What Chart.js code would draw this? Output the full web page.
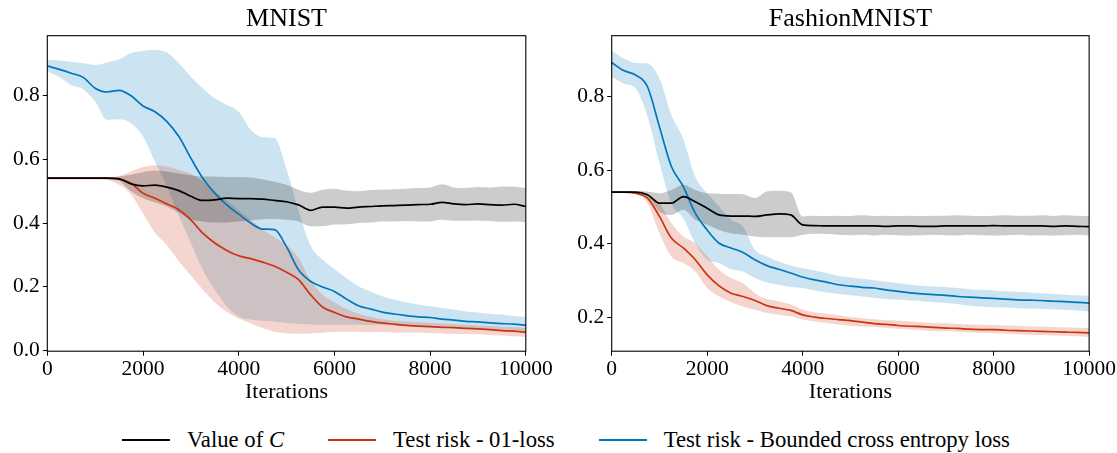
<!DOCTYPE html>
<html>
<head>
<meta charset="utf-8">
<script src="https://cdn.jsdelivr.net/npm/chart.js@4"></script>
<style>
  html, body { margin: 0; padding: 0; background: #fff; }
  body { width: 1117px; height: 453px; overflow: hidden; position: relative; font-family: 'Liberation Serif', serif; }
  #left { position: absolute; left: 0; top: 0; }
  #right { position: absolute; left: 558px; top: 0; }
  #legend { position: absolute; left: 122px; top: 425px; height: 30px; line-height: 30px; font-size: 22.7px; color: #000; white-space: nowrap; display: flex; align-items: center; }
  #legend .item { display: flex; align-items: center; margin-right: 44px; }
  #legend .swatch { display: inline-block; width: 48px; height: 2px; margin-right: 17px; }
</style>
</head>
<body>
<canvas id="left" width="558" height="410"></canvas>
<canvas id="right" width="559" height="410"></canvas>
<div id="legend"></div>
<script>
// x axis (iterations), one value per 250 steps
const iterations = [0, 250, 500, 750, 1000, 1250, 1500, 1750, 2000, 2250, 2500, 2750, 3000, 3250, 3500, 3750, 4000, 4250, 4500, 4750, 5000,
  5250, 5500, 5750, 6000, 6250, 6500, 6750, 7000, 7250, 7500, 7750, 8000, 8250, 8500, 8750, 9000, 9250, 9500, 9750, 10000];

const seriesNames = ['Value of <i>C</i>', 'Test risk - 01-loss', 'Test risk - Bounded cross entropy loss'];
const seriesColors = ['#000000', '#CC3311', '#0077BB'];
const bandColors = ['rgba(0,0,0,0.2)', 'rgba(204,51,17,0.2)', 'rgba(0,119,187,0.2)'];
const xTicks = [0, 2000, 4000, 6000, 8000, 10000];

// ---- MNIST ----
const mnistC   = [0.541, 0.541, 0.541, 0.541, 0.541, 0.541, 0.539, 0.523, 0.517, 0.519, 0.513, 0.502, 0.484, 0.471, 0.473, 0.478, 0.477, 0.477, 0.475, 0.471, 0.467,
  0.457, 0.440, 0.450, 0.450, 0.447, 0.450, 0.452, 0.454, 0.455, 0.456, 0.458, 0.459, 0.465, 0.460, 0.458, 0.460, 0.458, 0.456, 0.459, 0.452];
const mnistCHi = [0.543, 0.543, 0.543, 0.543, 0.543, 0.543, 0.546, 0.552, 0.560, 0.565, 0.562, 0.556, 0.550, 0.546, 0.546, 0.545, 0.545, 0.543, 0.538, 0.530, 0.520,
  0.505, 0.495, 0.505, 0.508, 0.502, 0.500, 0.504, 0.505, 0.506, 0.508, 0.510, 0.512, 0.522, 0.512, 0.510, 0.513, 0.512, 0.515, 0.514, 0.510];
const mnistCLo = [0.538, 0.538, 0.538, 0.538, 0.538, 0.538, 0.532, 0.500, 0.478, 0.465, 0.452, 0.432, 0.412, 0.405, 0.402, 0.402, 0.405, 0.408, 0.412, 0.413, 0.410,
  0.405, 0.390, 0.390, 0.395, 0.396, 0.400, 0.402, 0.405, 0.405, 0.406, 0.405, 0.405, 0.410, 0.407, 0.407, 0.408, 0.406, 0.404, 0.405, 0.402];

const mnistRisk   = [0.541, 0.541, 0.541, 0.541, 0.541, 0.541, 0.539, 0.525, 0.494, 0.478, 0.460, 0.442, 0.410, 0.368, 0.337, 0.314, 0.297, 0.288, 0.277, 0.264, 0.245,
  0.222, 0.175, 0.136, 0.119, 0.105, 0.098, 0.091, 0.086, 0.082, 0.078, 0.076, 0.074, 0.072, 0.071, 0.069, 0.067, 0.065, 0.062, 0.060, 0.057];
const mnistRiskHi = [0.543, 0.543, 0.543, 0.543, 0.543, 0.543, 0.548, 0.562, 0.576, 0.582, 0.578, 0.567, 0.555, 0.530, 0.500, 0.470, 0.440, 0.410, 0.380, 0.355, 0.330,
  0.290, 0.220, 0.175, 0.150, 0.130, 0.115, 0.105, 0.098, 0.093, 0.090, 0.088, 0.086, 0.084, 0.082, 0.080, 0.078, 0.076, 0.074, 0.072, 0.070];
const mnistRiskLo = [0.538, 0.538, 0.538, 0.538, 0.538, 0.535, 0.520, 0.490, 0.430, 0.370, 0.330, 0.280, 0.235, 0.190, 0.150, 0.120, 0.100, 0.085, 0.070, 0.058, 0.053,
  0.052, 0.053, 0.055, 0.057, 0.058, 0.058, 0.057, 0.057, 0.056, 0.055, 0.055, 0.054, 0.053, 0.052, 0.051, 0.050, 0.048, 0.046, 0.044, 0.042];

const mnistBce   = [0.894, 0.883, 0.871, 0.858, 0.824, 0.812, 0.817, 0.800, 0.768, 0.750, 0.719, 0.672, 0.604, 0.541, 0.494, 0.457, 0.428, 0.400, 0.381, 0.379, 0.325,
  0.253, 0.217, 0.199, 0.185, 0.161, 0.140, 0.130, 0.120, 0.114, 0.109, 0.105, 0.103, 0.098, 0.095, 0.091, 0.089, 0.086, 0.084, 0.082, 0.079];
const mnistBceHi = [0.913, 0.911, 0.907, 0.902, 0.897, 0.905, 0.915, 0.934, 0.942, 0.944, 0.936, 0.902, 0.860, 0.824, 0.792, 0.771, 0.750, 0.693, 0.670, 0.667, 0.570,
  0.440, 0.330, 0.285, 0.255, 0.227, 0.201, 0.185, 0.170, 0.159, 0.151, 0.144, 0.138, 0.133, 0.128, 0.122, 0.119, 0.115, 0.112, 0.108, 0.105];
const mnistBceLo = [0.876, 0.860, 0.834, 0.821, 0.782, 0.724, 0.726, 0.714, 0.672, 0.593, 0.515, 0.421, 0.337, 0.253, 0.190, 0.138, 0.105, 0.097, 0.093, 0.090, 0.086,
  0.083, 0.081, 0.080, 0.080, 0.080, 0.080, 0.079, 0.079, 0.078, 0.077, 0.076, 0.075, 0.074, 0.072, 0.071, 0.069, 0.067, 0.065, 0.062, 0.060];

// ---- FashionMNIST ----
const fashionC   = [0.540, 0.540, 0.540, 0.533, 0.510, 0.510, 0.528, 0.514, 0.496, 0.478, 0.475, 0.475, 0.474, 0.478, 0.481, 0.478, 0.451, 0.449, 0.448, 0.448, 0.448,
  0.448, 0.448, 0.447, 0.448, 0.448, 0.447, 0.447, 0.448, 0.448, 0.448, 0.448, 0.449, 0.448, 0.448, 0.448, 0.448, 0.447, 0.448, 0.447, 0.446];
const fashionCHi = [0.543, 0.543, 0.543, 0.542, 0.537, 0.546, 0.560, 0.546, 0.537, 0.536, 0.535, 0.534, 0.524, 0.542, 0.544, 0.540, 0.474, 0.476, 0.475, 0.476, 0.475,
  0.477, 0.475, 0.476, 0.475, 0.476, 0.475, 0.476, 0.476, 0.477, 0.476, 0.475, 0.476, 0.477, 0.476, 0.476, 0.477, 0.475, 0.477, 0.476, 0.475];
const fashionCLo = [0.538, 0.538, 0.537, 0.528, 0.487, 0.478, 0.492, 0.465, 0.451, 0.437, 0.428, 0.424, 0.419, 0.417, 0.417, 0.417, 0.424, 0.427, 0.426, 0.424, 0.423,
  0.424, 0.422, 0.424, 0.423, 0.422, 0.423, 0.424, 0.423, 0.422, 0.424, 0.423, 0.422, 0.423, 0.424, 0.422, 0.423, 0.422, 0.423, 0.424, 0.422];

const fashionRisk   = [0.540, 0.540, 0.537, 0.524, 0.474, 0.415, 0.388, 0.356, 0.315, 0.285, 0.265, 0.256, 0.245, 0.231, 0.224, 0.218, 0.206, 0.200, 0.196, 0.193, 0.190,
  0.186, 0.182, 0.180, 0.177, 0.175, 0.174, 0.172, 0.170, 0.169, 0.167, 0.166, 0.166, 0.164, 0.163, 0.162, 0.161, 0.160, 0.159, 0.158, 0.157];
const fashionRiskHi = [0.541, 0.541, 0.540, 0.533, 0.510, 0.456, 0.419, 0.401, 0.365, 0.329, 0.306, 0.292, 0.265, 0.249, 0.243, 0.234, 0.220, 0.213, 0.209, 0.205, 0.200,
  0.197, 0.194, 0.192, 0.190, 0.188, 0.186, 0.184, 0.183, 0.181, 0.180, 0.179, 0.178, 0.177, 0.176, 0.175, 0.174, 0.173, 0.172, 0.171, 0.170];
const fashionRiskLo = [0.538, 0.538, 0.535, 0.510, 0.428, 0.365, 0.347, 0.324, 0.279, 0.256, 0.240, 0.229, 0.220, 0.211, 0.206, 0.202, 0.193, 0.188, 0.184, 0.180, 0.176,
  0.174, 0.173, 0.170, 0.168, 0.166, 0.164, 0.162, 0.161, 0.160, 0.158, 0.157, 0.156, 0.155, 0.153, 0.152, 0.151, 0.150, 0.149, 0.148, 0.146];

const fashionBce   = [0.893, 0.871, 0.859, 0.827, 0.718, 0.610, 0.555, 0.483, 0.437, 0.401, 0.388, 0.376, 0.356, 0.340, 0.330, 0.320, 0.309, 0.301, 0.295, 0.288, 0.284,
  0.281, 0.279, 0.274, 0.270, 0.266, 0.263, 0.261, 0.259, 0.256, 0.254, 0.252, 0.251, 0.249, 0.247, 0.246, 0.245, 0.243, 0.242, 0.240, 0.238];
const fashionBceHi = [0.925, 0.904, 0.892, 0.890, 0.850, 0.750, 0.685, 0.582, 0.537, 0.501, 0.465, 0.446, 0.383, 0.365, 0.351, 0.340, 0.333, 0.327, 0.320, 0.312, 0.308,
  0.304, 0.300, 0.296, 0.292, 0.288, 0.285, 0.283, 0.282, 0.279, 0.276, 0.274, 0.272, 0.270, 0.269, 0.267, 0.265, 0.263, 0.261, 0.259, 0.258];
const fashionBceLo = [0.854, 0.836, 0.823, 0.746, 0.619, 0.510, 0.469, 0.401, 0.356, 0.347, 0.330, 0.324, 0.306, 0.294, 0.288, 0.282, 0.279, 0.272, 0.267, 0.263, 0.259,
  0.256, 0.252, 0.249, 0.247, 0.245, 0.243, 0.240, 0.238, 0.235, 0.231, 0.229, 0.227, 0.226, 0.224, 0.223, 0.222, 0.221, 0.220, 0.218, 0.215];

const mnistYTicks = [0, 0.2, 0.4, 0.6, 0.8];
const fashionYTicks = [0.2, 0.4, 0.6, 0.8];

Chart.defaults.font.family = "'Liberation Serif', serif";
Chart.defaults.color = '#000';

const toXY = ys => iterations.map((x, i) => ({ x: x, y: ys[i] }));

function buildDatasets(lines, highs, lows) {
  const ds = [];
  // mean lines first -> painted on top
  lines.forEach((ys, k) => {
    ds.push({ data: toXY(ys), borderColor: seriesColors[k], borderWidth: 1.7, pointRadius: 0, fill: false, cubicInterpolationMode: 'monotone' });
  });
  // std bands underneath, upper edge filled down to the lower one
  lines.forEach((ys, k) => {
    const idx = ds.length;
    ds.push({ data: toXY(highs[k]), borderColor: 'rgba(0,0,0,0)', borderWidth: 0, pointRadius: 0, backgroundColor: bandColors[k], fill: idx + 1, cubicInterpolationMode: 'monotone' });
    ds.push({ data: toXY(lows[k]), borderColor: 'rgba(0,0,0,0)', borderWidth: 0, pointRadius: 0, fill: false, cubicInterpolationMode: 'monotone' });
  });
  return ds;
}

// box round the plot area like matplotlib spines + title centred over the plot area
const frame = {
  id: 'frame',
  afterDraw(chart, args, opts) {
    const { ctx, chartArea: a } = chart;
    ctx.save();
    ctx.strokeStyle = '#000';
    ctx.lineWidth = 1.1;
    ctx.strokeRect(a.left, a.top, a.right - a.left, a.bottom - a.top);
    ctx.fillStyle = '#000';
    ctx.font = "26px 'Liberation Serif', serif";
    ctx.textAlign = 'center';
    ctx.textBaseline = 'middle';
    ctx.fillText(opts.text, (a.left + a.right) / 2, 19);
    ctx.restore();
  }
};

function makeChart(id, title, datasets, yMin, yMax, yTicks, axisWidth, padRight) {
  return new Chart(document.getElementById(id), {
    type: 'line',
    data: { datasets: datasets },
    plugins: [frame],
    options: {
      responsive: false,
      animation: false,
      layout: { padding: { left: 0, right: padRight, top: 35.7, bottom: 0 } },
      plugins: {
        legend: { display: false },
        tooltip: { enabled: false },
        title: { display: false },
        frame: { text: title }
      },
      scales: {
        x: {
          type: 'linear', min: 0, max: 10000,
          afterFit: s => { s.height = 58.8; },
          afterBuildTicks: s => { s.ticks = xTicks.map(v => ({ value: v })); },
          ticks: { color: '#000', font: { size: 21.5 }, padding: 1, maxRotation: 0, autoSkip: false, callback: v => String(v) },
          grid: { drawOnChartArea: false, drawTicks: true, tickLength: 4.5, color: '#000' },
          border: { display: false },
          title: { display: true, text: 'Iterations', color: '#000', font: { size: 22 }, padding: { top: 0, bottom: 4.8 } }
        },
        y: {
          type: 'linear', min: yMin, max: yMax,
          afterFit: s => { s.width = axisWidth; },
          afterBuildTicks: s => { s.ticks = yTicks.map(v => ({ value: v })); },
          ticks: { color: '#000', font: { size: 21.5 }, padding: 3, callback: v => v.toFixed(1) },
          grid: { drawOnChartArea: false, drawTicks: true, tickLength: 4.5, color: '#000' },
          border: { display: false }
        }
      }
    }
  });
}

makeChart('left', 'MNIST',
  buildDatasets([mnistC, mnistRisk, mnistBce], [mnistCHi, mnistRiskHi, mnistBceHi], [mnistCLo, mnistRiskLo, mnistBceLo]),
  -0.003, 0.989, mnistYTicks, 47.3, 32.2);

makeChart('right', 'FashionMNIST',
  buildDatasets([fashionC, fashionRisk, fashionBce], [fashionCHi, fashionRiskHi, fashionBceHi], [fashionCLo, fashionRiskLo, fashionBceLo]),
  0.107, 0.966, fashionYTicks, 53.7, 27.5);

// shared legend under both panels
const legend = document.getElementById('legend');
seriesNames.forEach((name, k) => {
  const item = document.createElement('span');
  item.className = 'item';
  item.innerHTML = '<span class="swatch" style="background:' + seriesColors[k] + '"></span><span>' + name + '</span>';
  legend.appendChild(item);
});
</script>
</body>
</html>
